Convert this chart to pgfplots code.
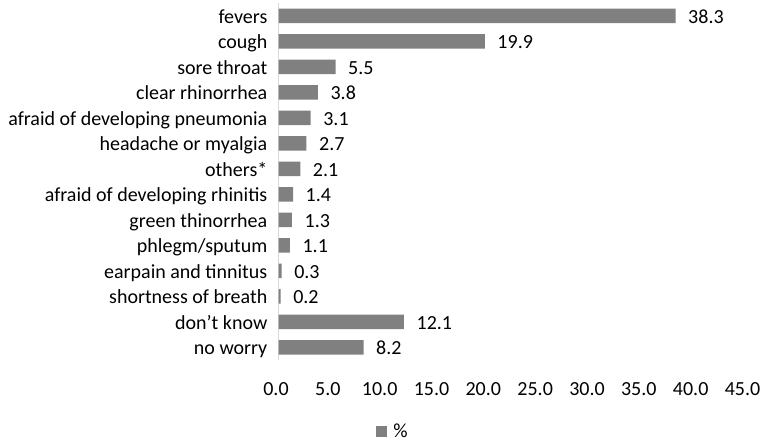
\documentclass[border=0pt]{standalone}
\usepackage{pgfplots}
\pgfplotsset{compat=1.18}
\usepackage{fontspec}
\setmainfont{Carlito}
\definecolor{barc}{RGB}{128,128,128}
\definecolor{axc}{RGB}{217,217,217}
\newcommand{\cf}{\fontsize{20bp}{24bp}\selectfont}
\begin{document}
\begin{tikzpicture}
\useasboundingbox (0,0) rectangle (764bp,442bp);
\begin{axis}[
  at={(278.5bp,82bp)}, anchor=south west,
  scale only axis, width=466.5bp, height=357bp,
  xbar, bar width=14.5bp,
  xmin=0, xmax=45, ymin=-0.5, ymax=13.5, y dir=reverse,
  ytick={0,...,13},
  yticklabels={fevers, cough, sore throat, clear rhinorrhea, afraid of developing pneumonia, headache or myalgia, others*, afraid of developing rhinitis, green thinorrhea, phlegm/sputum, earpain and tinnitus, shortness of breath, don’t know, no worry},
  xtick={0,5,...,45},
  /pgf/number format/assume math mode=true,
  xticklabel={\pgfmathprintnumber[fixed,fixed zerofill,precision=1]{\tick}},
  axis lines=left, axis line style={-},
  x axis line style={draw=none},
  y axis line style={draw=axc, line width=1bp},
  major tick length=0pt,
  tick label style={font=\cf, text=black, inner sep=0pt},
  x tick label style={anchor=base, yshift=-35bp, xshift=-2.5bp},
  y tick label style={anchor=base east, xshift=-11bp, yshift=-7.4bp},
  nodes near coords={\pgfmathprintnumber[fixed,fixed zerofill,precision=1]{\pgfplotspointmeta}},
  nodes near coords style={font=\cf, text=black, anchor=base west, inner sep=0pt, xshift=12.5bp, yshift=-7.6bp},
  legend style={at={(axis description cs:0.245,-0.199)}, anchor=center, draw=none, fill=none, inner sep=0pt, font=\cf},
  legend image code/.code={\fill[barc] (0bp,-5.5bp) rectangle (11.5bp,5.5bp); \path (15.5bp,0bp);},
]
\addplot[fill=barc, draw=none] coordinates {
(38.3,0) (19.9,1) (5.5,2) (3.8,3) (3.1,4) (2.7,5) (2.1,6) (1.4,7) (1.3,8) (1.1,9) (0.3,10) (0.2,11) (12.1,12) (8.2,13)
};
\addlegendentry{\%}
\end{axis}
\end{tikzpicture}
\end{document}
